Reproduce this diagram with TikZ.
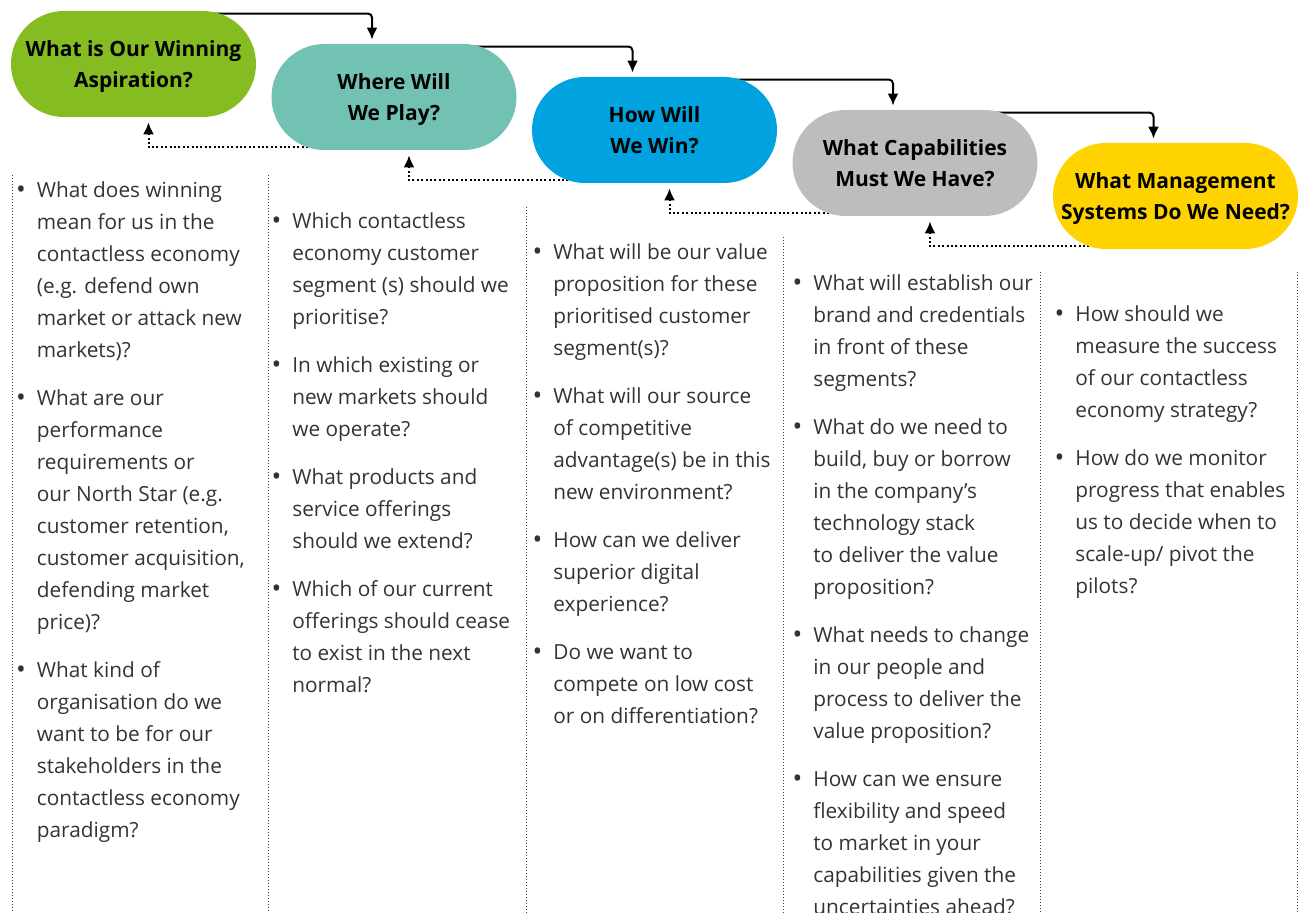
\documentclass[tikz,border=0pt]{standalone}
\usepackage{fontspec}
\setmainfont{Open Sans}
\usepackage{tikz}
\usetikzlibrary{positioning}
\usetikzlibrary{arrows.meta}
\definecolor{aspgreen}{HTML}{85BC22}
\definecolor{playteal}{HTML}{71C2B3}
\definecolor{winblue}{HTML}{00A3E0}
\definecolor{capgrey}{HTML}{BCBDBC}
\definecolor{mgmtyellow}{HTML}{FFD300}
\definecolor{bodygrey}{HTML}{333333}
\pgfdeclarelayer{background}
\pgfsetlayers{background,main}
% bullet hanging to the left of a question (the rule fixes the first line's top)
\newcommand{\q}{\rule{0pt}{12pt}\llap{\raisebox{-0.4pt}{\fontsize{13}{13}\selectfont\textbullet}\hspace{5.5pt}}}
\tikzset {
  x=0.5pt, y=-0.5pt,
  node distance={16.5pt and 130.25pt},
  % stadium shaped heading
  pill/.style = {rectangle, rounded corners=26.5pt, minimum width=122.5pt,
    minimum height=53pt, inner sep=0pt, align=center,
    font=\fontsize{10.5}{15.5}\selectfont\bfseries,
    text height=23.5pt, text depth=0pt},
  % arrow to the next step
  fwd/.style = {-{Latex[length=6pt,width=5.5pt]}, line width=1pt,
    rounded corners=2pt, shorten >=2pt},
  % dotted arrow back to the previous step
  back/.style = {-{Latex[length=6pt,width=5.5pt]}, line width=1pt,
    dash pattern=on 1pt off 1.2pt, shorten >=2.5pt},
  % list of questions under a step
  questions/.style = {anchor=north west, align=left, inner sep=0pt,
    text=bodygrey, font=\fontsize{10.4}{16}\selectfont},
  colrule/.style = {black!75, line width=0.5pt, dash pattern=on 0.5pt off 1pt},
}

\begin{document}
\begin{tikzpicture}[on grid]
  \useasboundingbox (0,0) rectangle (1303,913);
  \clip (0,0) rectangle (1303,913);

  \node[pill, fill=aspgreen] (p1) at (133.5,64) {What is Our Winning\\Aspiration?};
  \node[pill, fill=playteal] (p2) [below right=of p1] {Where Will\\We Play?};
  \node[pill, fill=winblue] (p3) [below right=of p2] {How Will\\We Win?};
  \node[pill, fill=capgrey] (p4) [below right=of p3] {What Capabilities\\Must We Have?};
  \node[pill, fill=mgmtyellow] (p5) [below right=of p4] {What Management\\Systems Do We Need?};

  \begin{pgfonlayer}{background}
    \foreach \a/\b in {p1/p2, p2/p3, p3/p4, p4/p5} {
      \draw[fwd] ([xshift=-25pt,yshift=-1.5pt]\a.north east) -| ([xshift=-11pt]\b.north);
      \draw[back] ([xshift=25pt,yshift=1.5pt]\b.south west) -| ([xshift=7.5pt]\a.south);
    }
  \end{pgfonlayer}

  % dotted column rules
  \foreach \x/\y in {12/175, 268/175, 526/207, 783/237, 1040/272, 1297/272}
    \draw[colrule] (\x,\y) -- (\x,913);

  \node[questions] (c1) at (36.5,173) {%
    \q What does winning\\mean for us in the\\contactless economy\\(e.g. defend own\\market or attack new\\markets)?\\[8pt]
    \q What are our\\performance\\requirements or\\our North Star (e.g.\\customer retention,\\customer acquisition,\\defending market\\price)?\\[8pt]
    \q What kind of\\organisation do we\\want to be for our\\stakeholders in the\\contactless economy\\paradigm?};
  \node[questions] (c2) at (292,204) {%
    \q Which contactless\\economy customer\\segment (s) should we\\prioritise?\\[8pt]
    \q In which existing or\\new markets should\\we operate?\\[8pt]
    \q What products and\\service offerings\\should we extend?\\[8pt]
    \q Which of our current\\offerings should cease\\to exist in the next\\normal?};
  \node[questions] (c3) at (553,235) {%
    \q What will be our value\\proposition for these\\prioritised customer\\segment(s)?\\[8pt]
    \q What will our source\\of competitive\\advantage(s) be in this\\new environment?\\[8pt]
    \q How can we deliver\\superior digital\\experience?\\[8pt]
    \q Do we want to\\compete on low cost\\or on differentiation?};
  \node[questions] (c4) at (813,266) {%
    \q What will establish our\\brand and credentials\\in front of these\\segments?\\[8pt]
    \q What do we need to\\build, buy or borrow\\in the company’s\\technology stack\\to deliver the value\\proposition?\\[8pt]
    \q What needs to change\\in our people and\\process to deliver the\\value proposition?\\[8pt]
    \q How can we ensure\\flexibility and speed\\to market in your\\capabilities given the\\uncertainties ahead?};
  \node[questions] (c5) at (1075,297) {%
    \q How should we\\measure the success\\of our contactless\\economy strategy?\\[8pt]
    \q How do we monitor\\progress that enables\\us to decide when to\\scale-up/ pivot the\\pilots?};
\end{tikzpicture}
\end{document}
